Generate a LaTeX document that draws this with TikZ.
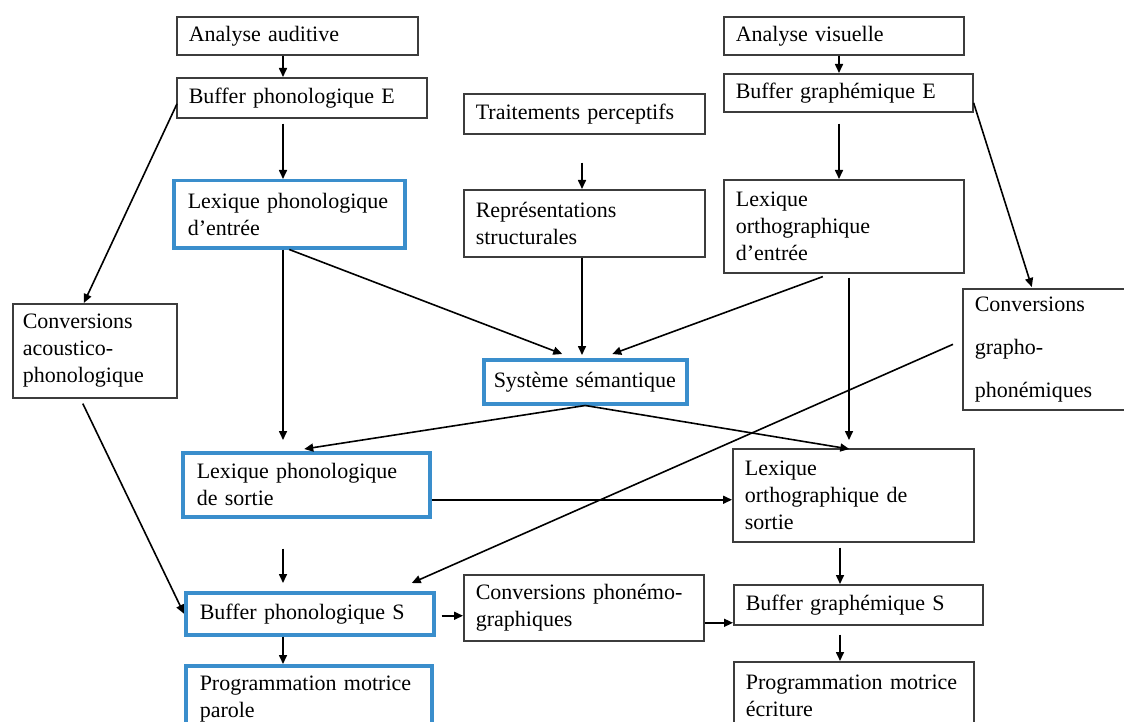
\documentclass[tikz,border=0pt]{standalone}
\usepackage{fontspec}
\setmainfont{Liberation Serif}
\usetikzlibrary{arrows.meta,calc}
\definecolor{boxblue}{RGB}{58,142,204}
\definecolor{boxgray}{RGB}{60,60,60}
\hyphenpenalty=10000
\exhyphenpenalty=10000
\begin{document}
\begin{tikzpicture}[x=1pt,y=-1pt,
  every node/.style={font=\fontsize{22}{27}\selectfont},
  bx/.style={draw=boxgray, line width=1.6pt, anchor=north west, align=left, inner xsep=12pt, inner ysep=0pt},
  bb/.style={bx, draw=boxblue, line width=3.5pt, inner xsep=14pt},
  arr/.style={-{Triangle[length=9pt,width=8pt]}, line width=1.6pt, black}]
\useasboundingbox (0,0) rectangle (1124,722);
\fill[white] (0,0) rectangle (1124,722);
\clip (0,0) rectangle (1124,722);

% column coordinates
\coordinate (cA) at (283,0);
\coordinate (cM) at (582,0);
\coordinate (cR) at (839,0);
\coordinate (cR2) at (849,0);
\coordinate (cR3) at (840,0);

% nodes
\node[bx, text width=217pt, minimum height=38pt] (aa) at (176,16) {Analyse auditive};
\node[bx, text width=226pt, minimum height=40pt] (bpe) at (176,77) {Buffer phonologique E};
\node[bb, text width=203pt, minimum height=67pt] (lpe) at (172,179) {Lexique phonologique\\d’entrée};
\node[bx, text width=217pt, minimum height=40pt] (tp) at (463,93) {Traitements perceptifs};
\node[bx, text width=217pt, minimum height=67pt] (rs) at (463,189) {Représentations\\structurales};
\node[bx, text width=216pt, minimum height=38pt] (av) at (723,16) {Analyse visuelle};
\node[bx, text width=225pt, minimum height=38pt] (bge) at (723,73) {Buffer graphémique E};
\node[bx, text width=216pt, minimum height=93pt] (loe) at (723,179) {Lexique\\orthographique\\d’entrée};
\node[bx, text width=149pt, minimum height=121pt, font=\fontsize{22}{43}\selectfont] (cgp) at (962,288) {Conversions\\grapho-\\phonémiques};
\node[bx, text width=144pt, minimum height=94pt, inner xsep=10pt] (cap) at (12,303) {Conversions\\acoustico-\\phonologique};
\node[bb, text width=183pt, minimum height=44pt, inner xsep=10pt] (ss) at (482,358) {Système sémantique};
\node[bb, text width=219pt, minimum height=64pt] (lps) at (181,451) {Lexique phonologique\\de sortie};
\node[bx, text width=217pt, minimum height=93pt] (los) at (732,448) {Lexique\\orthographique de\\sortie};
\node[bb, text width=220pt, minimum height=42pt] (bps) at (184,591) {Buffer phonologique S};
\node[bx, text width=216pt, minimum height=66pt] (cpg) at (463,574) {Conversions phonémo-\\graphiques};
\node[bx, text width=225pt, minimum height=40pt] (bgs) at (733,584) {Buffer graphémique S};
\node[bb, text width=218pt, minimum height=66pt] (pmp) at (184,664) {Programmation motrice\\parole};
\node[bx, text width=216pt, minimum height=69pt] (pme) at (733,661) {Programmation motrice\\écriture};

% vertical connectors
\draw[arr] (aa.south -| cA) -- (bpe.north -| cA);
\draw[arr] ($(bpe.south -| cA)+(0,5)$) -- (lpe.north -| cA);
\draw[arr] (lpe.south -| cA) -- ($(lps.north -| cA)+(0,-11)$);
\draw[arr] ($(lps.south -| cA)+(0,30)$) -- ($(bps.north -| cA)+(0,-8)$);
\draw[arr] (bps.south -| cA) -- (pmp.north -| cA);
\draw[arr] ($(tp.south -| cM)+(0,28)$) -- (rs.north -| cM);
\draw[arr] (rs.south -| cM) -- ($(ss.north -| cM)+(0,-3)$);
\draw[arr] (av.south -| cR) -- (bge.north -| cR);
\draw[arr] ($(bge.south -| cR)+(0,11)$) -- (loe.north -| cR);
\draw[arr] ($(loe.south -| cR2)+(0,4)$) -- ($(los.north -| cR2)+(0,-8)$);
\draw[arr] ($(los.south -| cR3)+(0,5)$) -- (bgs.north -| cR3);
\draw[arr] ($(bgs.south -| cR3)+(0,9)$) -- (pme.north -| cR3);

% diagonal connectors
\draw[arr] (lpe.south) -- ($(ss.north)+(-23,-4)$);
\draw[arr] ($(loe.south)+(-21,3)$) -- ($(ss.north)+(27,-4)$);
\draw[arr] (ss.south) -- ($(lps.north)+(-2,-2)$);
\draw[arr] (ss.south) -- ($(los.north)+(-4,1)$);
\draw[arr] ($(bge.east)+(0,10)$) -- ($(cgp.north)+(-17.5,-1)$);
\draw[arr] ($(bpe.west)+(1,6)$) -- ($(cap.north)+(-11,0)$);
\draw[arr] ($(cap.south)+(-12,5)$) -- (bps.west);
\draw[arr] ($(cgp.west)+(-9,-5)$) -- ($(bps.north)+(102,-8)$);

% horizontal connectors
\coordinate (h1) at ($(lps.east)+(0,15)$);
\draw[arr] (h1) -- (h1 -| los.west);
\coordinate (h2) at ($(bps.east)+(6,2)$);
\draw[arr] (h2) -- (h2 -| cpg.west);
\coordinate (h3) at ($(cpg.east)+(0,15)$);
\draw[arr] (h3) -- (h3 -| bgs.west);
\end{tikzpicture}
\end{document}
